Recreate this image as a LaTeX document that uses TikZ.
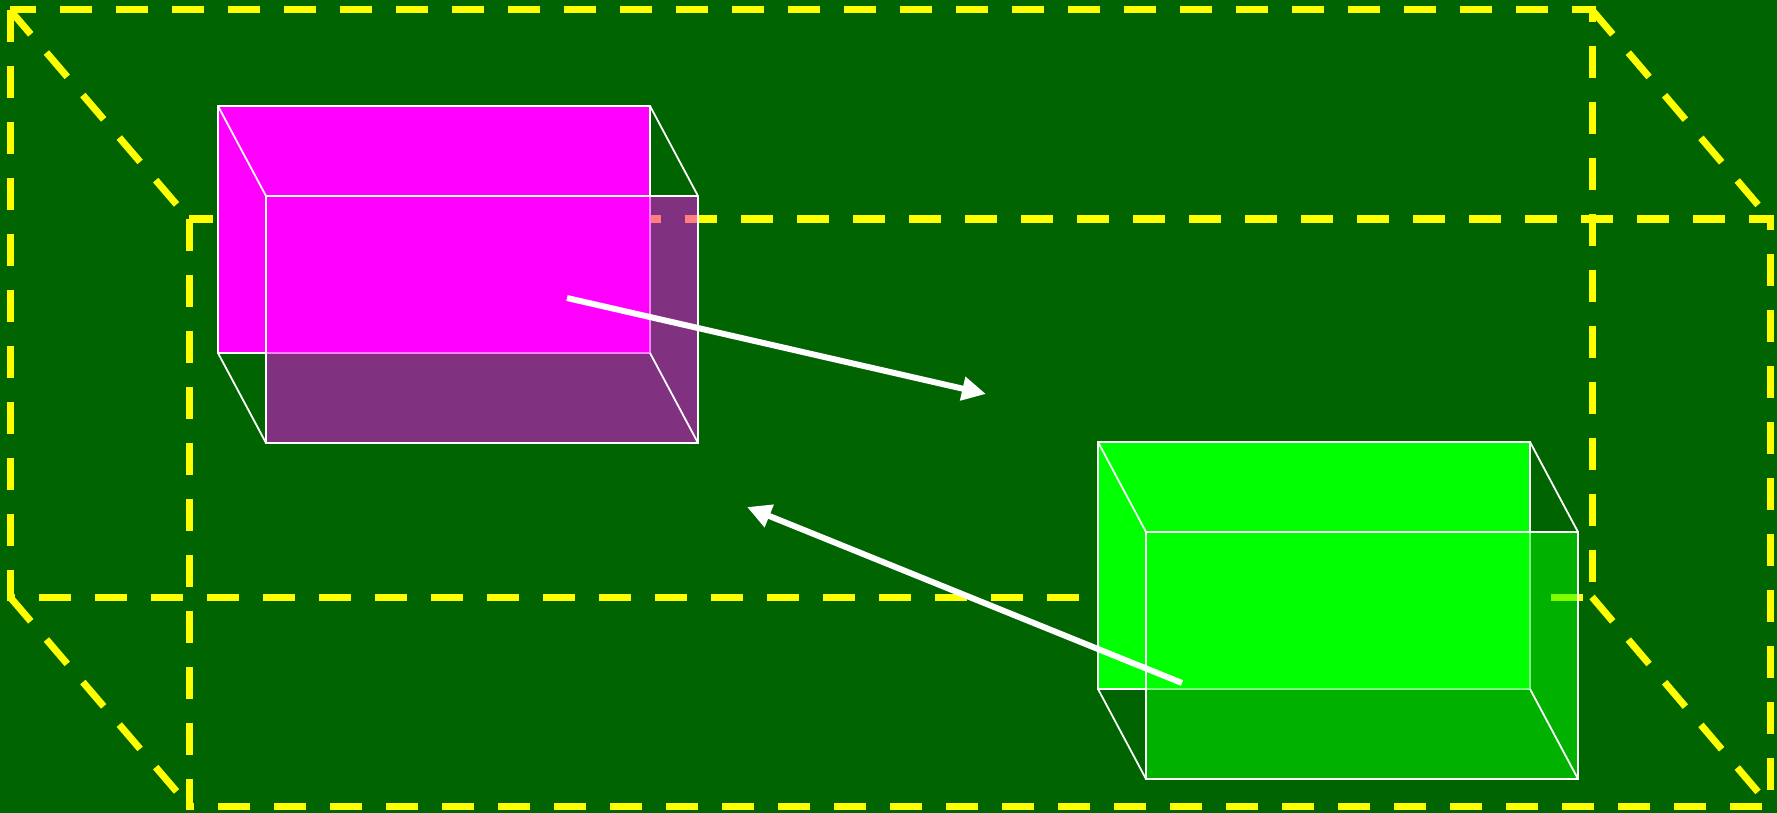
\documentclass[tikz,border=0pt]{standalone}
\usetikzlibrary{arrows.meta}
\definecolor{bgcol}{HTML}{006400}
\definecolor{cubecol}{HTML}{FFFF00}
\definecolor{magbox}{HTML}{FF00FF}
\definecolor{grnbox}{HTML}{00FF00}
\begin{document}
\begin{tikzpicture}[x=1pt,y=-1pt,
  cubeline/.style={draw=cubecol, line width=7pt, dash pattern=on 32pt off 24pt},
  boxedge/.style={draw=white, line width=1.8pt},
  flow/.style={draw=white, line width=6pt, -{Triangle[length=24pt,width=23pt]}},
]
\fill[bgcol] (0,0) rectangle (1777,813);
\useasboundingbox (0,0) rectangle (1777,813);

% dashed cube corners
\coordinate (k1) at (10,10);
\coordinate (k2) at (1592,10);
\coordinate (k3) at (1592,597);
\coordinate (k4) at (10,597);
\coordinate (f1) at (189,219);
\coordinate (f2) at (1770,219);
\coordinate (f3) at (1770,806);
\coordinate (f4) at (189,806);

\draw[cubeline] (k1) -- (k4) -- (k3) -- (k2) -- cycle;
\draw[cubeline] (f1) -- (f4) -- (f3) -- (f2) -- cycle;
\draw[cubeline] (k1) -- (f1);
\draw[cubeline] (k2) -- (f2);
\draw[cubeline] (k4) -- (f4);
\draw[cubeline] (k3) -- (f3);

% magenta box
\coordinate (a1) at (218,106);
\coordinate (a2) at (650,106);
\coordinate (a3) at (650,353);
\coordinate (a4) at (218,353);
\coordinate (b1) at (266,196);
\coordinate (b2) at (698,196);
\coordinate (b3) at (698,443);
\coordinate (b4) at (266,443);
\fill[magbox] (a1) -- (a2) -- (a3) -- (a4) -- cycle;
\draw[boxedge] (a1) -- (a2) -- (a3) -- (a4) -- cycle;
\fill[magbox, fill opacity=0.5] (b1) -- (b2) -- (b3) -- (b4) -- cycle;
\draw[boxedge] (b1) -- (b2) -- (b3) -- (b4) -- cycle;
\draw[boxedge] (a1) -- (b1);
\draw[boxedge] (a2) -- (b2);
\draw[boxedge] (a3) -- (b3);
\draw[boxedge] (a4) -- (b4);

% green box
\coordinate (c1) at (1098,442);
\coordinate (c2) at (1530,442);
\coordinate (c3) at (1530,689);
\coordinate (c4) at (1098,689);
\coordinate (d1) at (1146,532);
\coordinate (d2) at (1578,532);
\coordinate (d3) at (1578,779);
\coordinate (d4) at (1146,779);
\fill[grnbox] (c1) -- (c2) -- (c3) -- (c4) -- cycle;
\draw[boxedge] (c1) -- (c2) -- (c3) -- (c4) -- cycle;
\fill[grnbox, fill opacity=0.5] (d1) -- (d2) -- (d3) -- (d4) -- cycle;
\draw[boxedge] (d1) -- (d2) -- (d3) -- (d4) -- cycle;
\draw[boxedge] (c1) -- (d1);
\draw[boxedge] (c2) -- (d2);
\draw[boxedge] (c3) -- (d3);
\draw[boxedge] (c4) -- (d4);

% arrows
\coordinate (p1) at (567,298);
\coordinate (p2) at (986,394);
\coordinate (q1) at (1182,683);
\coordinate (q2) at (747,507);
\draw[flow] (p1) -- (p2);
\draw[flow] (q1) -- (q2);
\end{tikzpicture}
\end{document}
